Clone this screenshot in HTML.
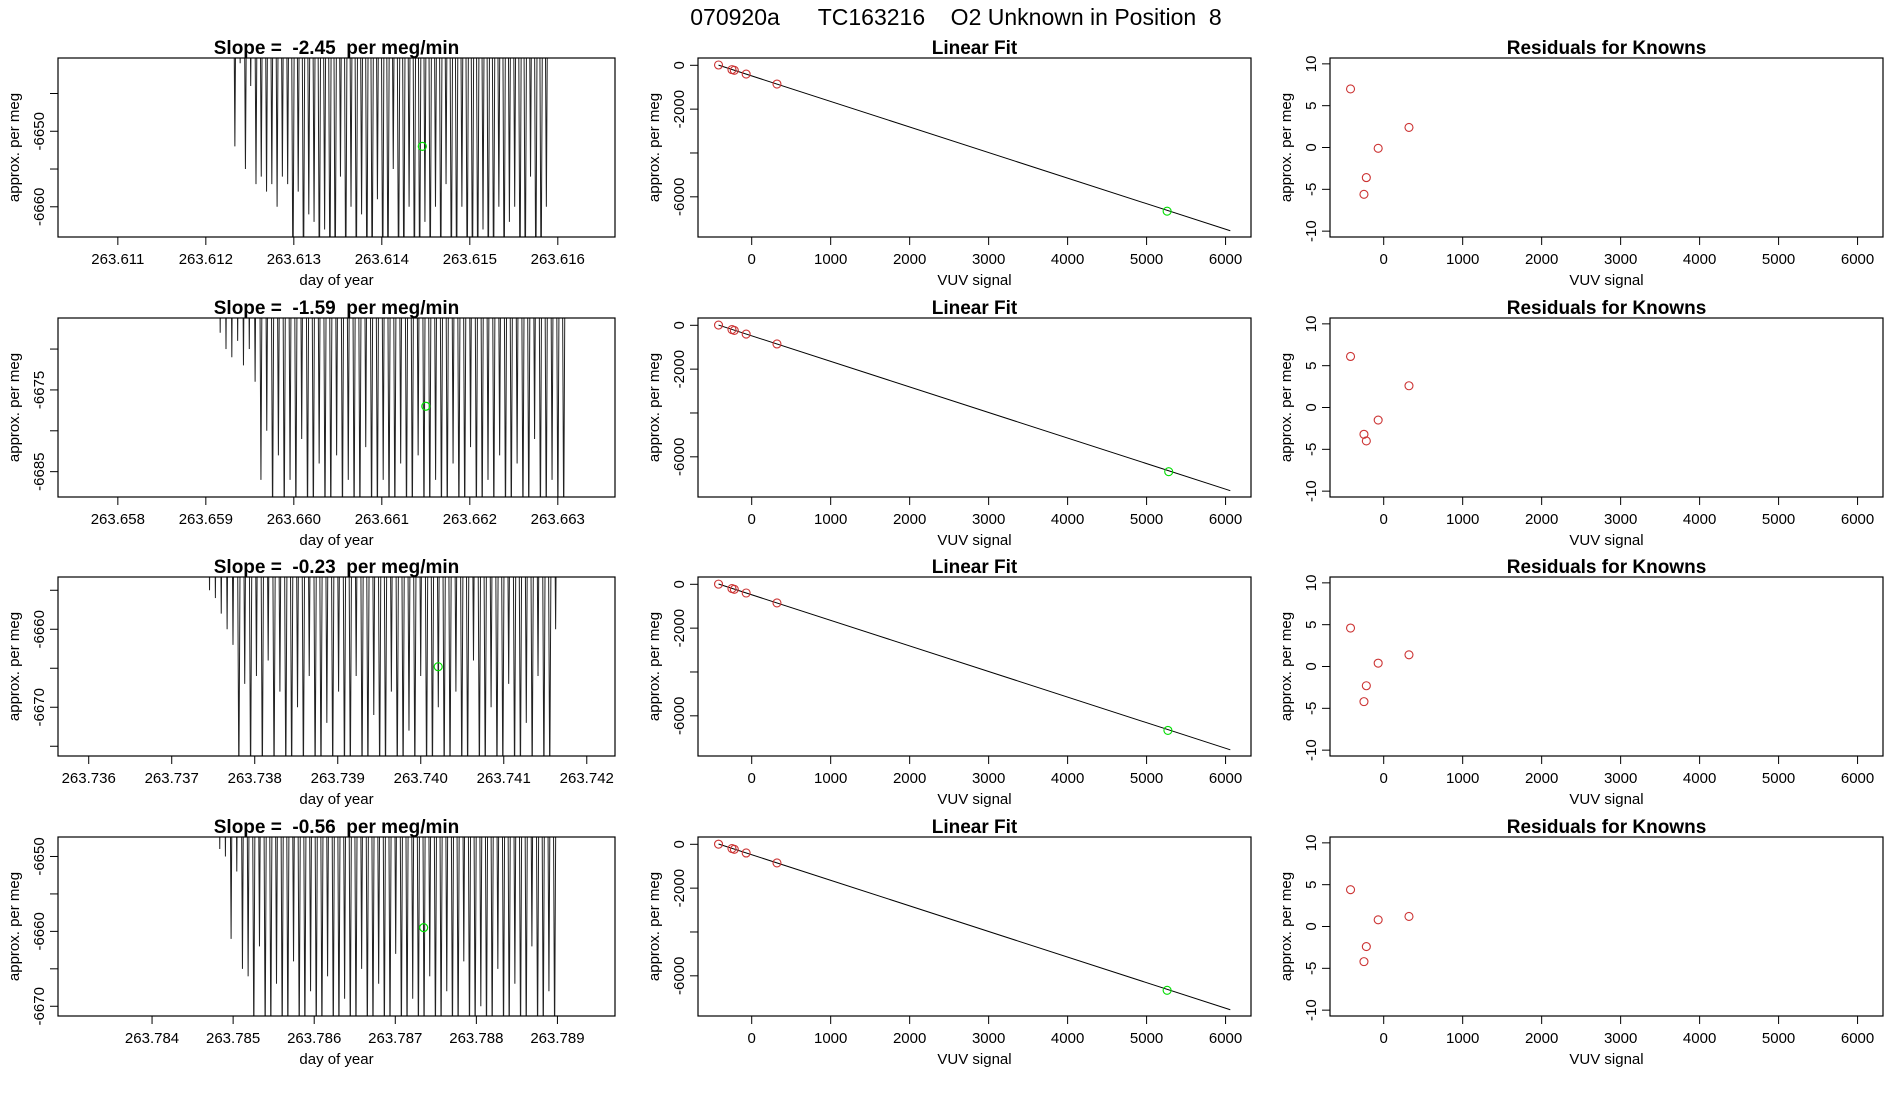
<!DOCTYPE html>
<html><head><meta charset="utf-8"><style>
html,body{margin:0;padding:0;background:#fff;}
svg{display:block;font-family:"Liberation Sans",sans-serif;}
svg text{white-space:pre;}
</style></head><body>
<svg id="chart" width="1900" height="1100" viewBox="0 0 1900 1100" xml:space="preserve">
<text x="956" y="25" font-size="23" text-anchor="middle">070920a      TC163216    O2 Unknown in Position  8</text>
<g id="root"></g>
</svg>
<script>
// ---- data ----
const slopes = ["-2.45","-1.59","-0.23","-0.56"];
const tsXRange = [[263.61032,263.61665],[263.65732,263.66365],[263.73563,263.74234],[263.78284,263.78971]];
const tsYRange = [[-6664.0,-6640.3],[-6688.1,-6666.2],[-6676.25,-6653.3],[-6671.3,-6647.4]];
const tsXTicks = [[263.611,263.612,263.613,263.614,263.615,263.616],[263.658,263.659,263.660,263.661,263.662,263.663],[263.736,263.737,263.738,263.739,263.740,263.741,263.742],[263.784,263.785,263.786,263.787,263.788,263.789]];
const tsYTicks = [[-6660,-6655,-6650,-6645],[-6685,-6680,-6675,-6670],[-6675,-6670,-6665,-6660,-6655],[-6670,-6665,-6660,-6655,-6650]];
const tsYLabels = [[-6660,-6650],[-6685,-6675],[-6670,-6660],[-6670,-6660,-6650]];
const tsStart = [263.6123,263.65913,263.73742,263.7848];
const tsEnd = [263.6159,263.6631,263.74166,263.7890];
const tsPeak = [-6600,-6620,-6610,-6600];
const lows1 = [-6652,-6641,-6655,-6644,-6657,-6656,-6658,-6657,-6660,-6656,-6657,-6672,-6658,-6672,-6661,-6662,-6672,-6663,-6672,-6672,-6656,-6672,-6660,-6672,-6661,-6672,-6672,-6659,-6672,-6672,-6655,-6672,-6672,-6660,-6672,-6672,-6662,-6672,-6660,-6672,-6657,-6672,-6672,-6660,-6672,-6672,-6672,-6663,-6672,-6672,-6660,-6672,-6662,-6660,-6672,-6672,-6656,-6672,-6672,-6660];
const lows2 = [-6668,-6670,-6671,-6669,-6672,-6670,-6674,-6686,-6680,-6692,-6683,-6692,-6686,-6692,-6681,-6692,-6692,-6684,-6692,-6692,-6683,-6692,-6686,-6692,-6692,-6682,-6692,-6692,-6686,-6692,-6692,-6684,-6692,-6692,-6683,-6692,-6692,-6686,-6692,-6692,-6684,-6692,-6692,-6682,-6692,-6692,-6686,-6692,-6683,-6692,-6692,-6684,-6692,-6692,-6681,-6692,-6692,-6686,-6692,-6692];
const lows3 = [-6655,-6656,-6658,-6660,-6662,-6680,-6667,-6680,-6666,-6680,-6664,-6680,-6668,-6680,-6680,-6670,-6680,-6666,-6680,-6680,-6672,-6680,-6668,-6680,-6680,-6666,-6680,-6680,-6671,-6680,-6680,-6668,-6680,-6680,-6673,-6680,-6666,-6680,-6680,-6670,-6680,-6680,-6668,-6680,-6680,-6664,-6680,-6680,-6670,-6680,-6680,-6667,-6680,-6680,-6672,-6680,-6666,-6680,-6680,-6660];
const lows4 = [-6649,-6650,-6661,-6652,-6665,-6666,-6675,-6662,-6675,-6675,-6667,-6675,-6675,-6664,-6675,-6675,-6668,-6675,-6675,-6666,-6675,-6675,-6669,-6675,-6675,-6665,-6675,-6675,-6667,-6675,-6675,-6663,-6675,-6675,-6669,-6675,-6675,-6666,-6675,-6675,-6668,-6675,-6675,-6664,-6675,-6675,-6670,-6675,-6675,-6665,-6675,-6675,-6667,-6675,-6675,-6662,-6675,-6675,-6668,-6675];
const tsLows = [lows1,lows2,lows3,lows4];
const tsGreenX = [263.61446,263.6615,263.74021,263.78735];
const tsGreenY = [-6652,-6677,-6664.8,-6659.5];
const fitXRange = [-680,6322];
const fitYRange = [-7833,333];
const fitXTicks = [0,1000,2000,3000,4000,5000,6000];
const fitYTicks = [0,-2000,-4000,-6000];
const fitYLabels = [0,-2000,-6000];
const knownX = [-420,-250,-220,-70,320];
const knownY1 = [14,-197,-230,-401,-854];
const knownY2 = [10,-194,-234,-400,-852];
const knownY3 = [8,-195,-229,-397,-850];
const knownY4 = [7,-193,-228,-396,-850];
const knownY = [knownY1,knownY2,knownY3,knownY4];
const fitA = [-483,-480,-478,-476];
const fitB = [-1.166,-1.166,-1.167,-1.167];
const lineX = [-420,6060];
const unkX = [5260,5280,5270,5260];
const unkY = [-6655,-6677,-6665,-6660];
const resYRange = [-10.7,10.7];
const resYTicks = [-10,-5,0,5,10];
const res1 = [7,-5.6,-3.6,-0.1,2.4];
const res2 = [6.1,-3.2,-4,-1.5,2.6];
const res3 = [4.6,-4.2,-2.3,0.4,1.4];
const res4 = [4.4,-4.2,-2.4,0.8,1.2];
const resVals = [res1,res2,res3,res4];

// ---- layout ----
const NS="http://www.w3.org/2000/svg";
const root=document.getElementById('root');
const rowTop=[58,318,577,837], boxH=179;
const colL=[58,698,1330], boxW=[557,553,553];
function mk(tag,attrs,parent,txt){const e=document.createElementNS(NS,tag);for(const k in attrs)e.setAttribute(k,attrs[k]);if(txt!==undefined)e.textContent=txt;(parent||root).appendChild(e);return e;}
function scale(d0,d1,r0,r1){return v=>r0+(v-d0)/(d1-d0)*(r1-r0);}

function panel(r,c,title,xr,yr,xt,yt,yl,xtitle,dec){
  const L=colL[c],T=rowTop[r],W=boxW[c],B=T+boxH;
  const g=mk('g',{});
  
  
  const sx=scale(xr[0],xr[1],L,L+W), sy=scale(yr[0],yr[1],B,T);
  const t=mk('text',{x:L+W/2,y:T-4,'font-size':19,'font-weight':'bold','text-anchor':'middle'},g,title);
  
  
  const xa=mk('g',{},g);
  
  
  xt.forEach(v=>{const x=sx(v);mk('line',{x1:x,x2:x,y1:B,y2:B+8,stroke:'#000'},xa);
    const lb=mk('text',{x:x,y:B+27,'font-size':15,'text-anchor':'middle'},xa,dec>0?v.toFixed(dec):String(v));
    
    });
  const xtl=mk('text',{x:L+W/2,y:B+48,'font-size':15,'text-anchor':'middle'},g,xtitle);
  
  
  const ya=mk('g',{},g);
  
  
  yt.forEach(v=>{const y=sy(v);mk('line',{x1:L-8,x2:L,y1:y,y2:y,stroke:'#000'},ya);});
  yl.forEach(v=>{const y=sy(v);const lb=mk('text',{x:0,y:0,'font-size':15,'text-anchor':'middle',transform:`translate(${L-14},${y}) rotate(-90)`},ya,String(v));
    
    });
  const ytl=mk('text',{x:0,y:0,'font-size':15,'text-anchor':'middle',transform:`translate(${L-39},${T+boxH/2}) rotate(-90)`},g,'approx. per meg');
  
  
  const cid='clip'+r+c;
  const cp=mk('clipPath',{id:cid},g);mk('rect',{x:L,y:T,width:W,height:boxH},cp);
  const plot=mk('g',{'clip-path':`url(#${cid})`},g);
  
  
  const box=mk('rect',{x:L,y:T,width:W,height:boxH,fill:'none',stroke:'#000','stroke-width':1.2},g);
  
  
  return {sx,sy,plot};
}

for(let r=0;r<4;r++){
  const p=panel(r,0,'Slope =  '+slopes[r]+'  per meg/min',tsXRange[r],tsYRange[r],tsXTicks[r],tsYTicks[r],tsYLabels[r],'day of year',3);
  const lows=tsLows[r], n=lows.length, dt=(tsEnd[r]-tsStart[r])/n;
  let pts=[];
  for(let i=0;i<n;i++){
    pts.push(p.sx(tsStart[r]+i*dt).toFixed(2)+','+p.sy(tsPeak[r]).toFixed(2));
    pts.push(p.sx(tsStart[r]+(i+0.5)*dt).toFixed(2)+','+p.sy(lows[i]).toFixed(2));
  }
  pts.push(p.sx(tsEnd[r]).toFixed(2)+','+p.sy(tsPeak[r]).toFixed(2));
  const ln=mk('polyline',{points:pts.join(' '),fill:'none',stroke:'#222','stroke-width':1},p.plot);
  
  
  const gp=mk('circle',{cx:p.sx(tsGreenX[r]),cy:p.sy(tsGreenY[r]),r:4,fill:'none',stroke:'#00dd00','stroke-width':1.2},p.plot);
  
  

  const q=panel(r,1,'Linear Fit',fitXRange,fitYRange,fitXTicks,fitYTicks,fitYLabels,'VUV signal',0);
  const fl=mk('line',{x1:q.sx(lineX[0]),y1:q.sy(fitA[r]+fitB[r]*lineX[0]),x2:q.sx(lineX[1]),y2:q.sy(fitA[r]+fitB[r]*lineX[1]),stroke:'#000','stroke-width':1},q.plot);
  
  
  knownX.forEach((x,i)=>{const c=mk('circle',{cx:q.sx(x),cy:q.sy(knownY[r][i]),r:4,fill:'none',stroke:'#cc3333','stroke-width':1.1},q.plot);
    
    });
  const uc=mk('circle',{cx:q.sx(unkX[r]),cy:q.sy(unkY[r]),r:4,fill:'none',stroke:'#00dd00','stroke-width':1.1},q.plot);
  
  

  const s=panel(r,2,'Residuals for Knowns',fitXRange,resYRange,fitXTicks,resYTicks,resYTicks,'VUV signal',0);
  knownX.forEach((x,i)=>{const c=mk('circle',{cx:s.sx(x),cy:s.sy(resVals[r][i]),r:4,fill:'none',stroke:'#cc3333','stroke-width':1.1},s.plot);
    
    });
}
</script>
</body></html>
